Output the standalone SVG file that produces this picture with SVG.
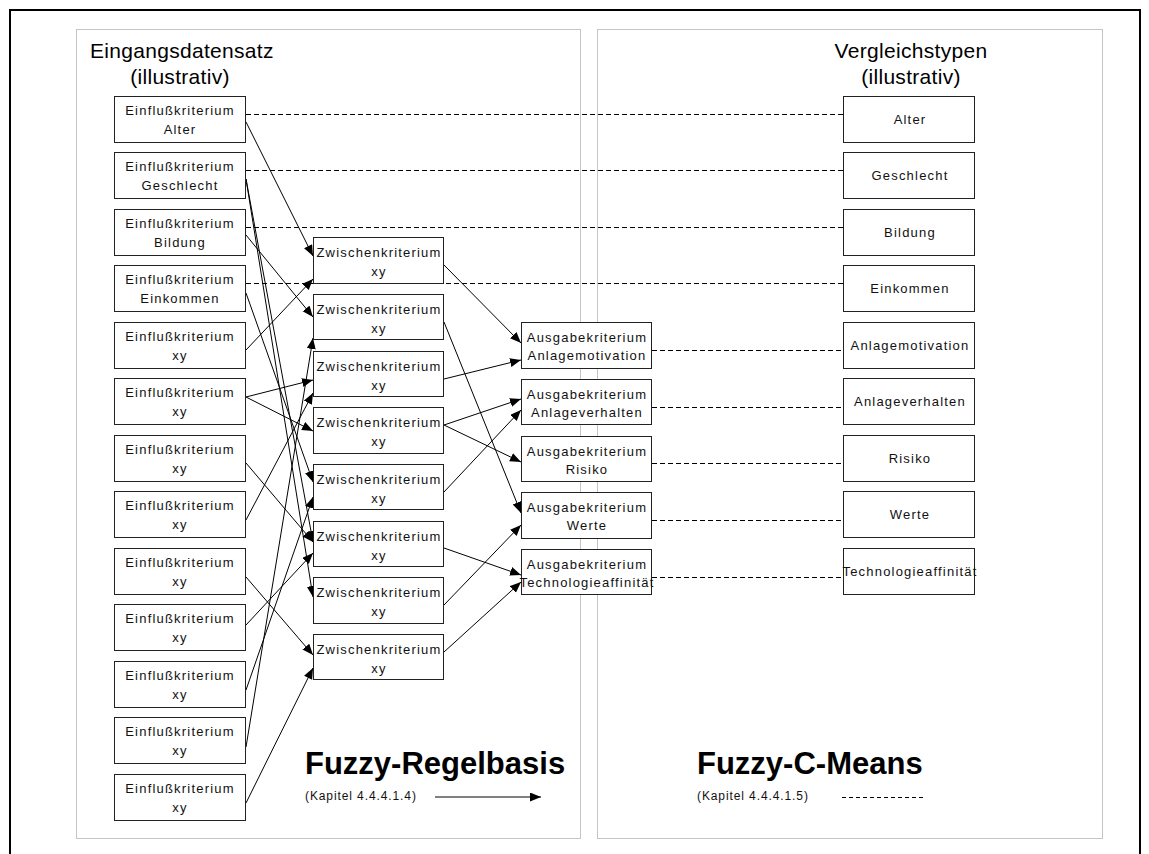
<svg xmlns="http://www.w3.org/2000/svg" width="1149" height="854" viewBox="0 0 1149 854">
  <style>
    .frame { fill: none; stroke: #000; stroke-width: 2; }
    .panel { fill: none; stroke: #8a8a8a; stroke-width: 1; stroke-dasharray: 1 1; }
    .box { fill: #fff; stroke: #222; stroke-width: 1; }
    .lbl { font-family: "Liberation Sans", Arial, sans-serif; font-size: 13px; letter-spacing: 1.2px; fill: #111; text-anchor: middle; }
    .title { font-family: "Liberation Sans", Arial, sans-serif; font-size: 21px; letter-spacing: 0.3px; fill: #000; }
    .big { font-family: "Liberation Sans", Arial, sans-serif; font-size: 31px; font-weight: bold; fill: #000; }
    .small { font-family: "Liberation Sans", Arial, sans-serif; font-size: 12px; letter-spacing: 0.9px; fill: #111; }
    .arrow { fill: none; stroke: #000; stroke-width: 1; marker-end: url(#head); }
    .dash { fill: none; stroke: #000; stroke-width: 1; stroke-dasharray: 5 3; }
  </style>
  <defs>
    <marker id="head" markerUnits="userSpaceOnUse" markerWidth="12" markerHeight="10" refX="11" refY="4.5" orient="auto">
      <path d="M0,0 L11,4.5 L0,9 z" fill="#000"/>
    </marker>
  </defs>

  <rect width="1149" height="854" fill="#fff"/>

  <!-- outer frame, open at the bottom -->
  <path class="frame" d="M10,854 V10 H1140 V854"/>

  <!-- dotted panels -->
  <rect class="panel" x="76.5" y="29.5" width="504" height="809"/>
  <rect class="panel" x="597.5" y="29.5" width="505" height="809"/>

  <text class="title" x="90" y="58">Eingangsdatensatz</text>
  <text class="title" x="180" y="84" text-anchor="middle">(illustrativ)</text>
  <text class="title" x="911" y="58" text-anchor="middle">Vergleichstypen</text>
  <text class="title" x="911" y="84" text-anchor="middle">(illustrativ)</text>

  <!-- connectors -->
  <g id="connectors">
    <!-- dashed links to the comparison types -->
    <line class="dash" x1="246" y1="114.5" x2="843" y2="114.5"/>
    <line class="dash" x1="246" y1="170.5" x2="843" y2="170.5"/>
    <line class="dash" x1="246" y1="227.5" x2="843" y2="227.5"/>
    <line class="dash" x1="246" y1="283.5" x2="843" y2="283.5"/>
    <line class="dash" x1="652" y1="350.5" x2="843" y2="350.5"/>
    <line class="dash" x1="652" y1="407.5" x2="843" y2="407.5"/>
    <line class="dash" x1="652" y1="463.5" x2="843" y2="463.5"/>
    <line class="dash" x1="652" y1="520.5" x2="843" y2="520.5"/>
    <line class="dash" x1="652" y1="577.5" x2="843" y2="577.5"/>

    <!-- input criteria to intermediate criteria -->
    <line class="arrow" x1="246" y1="122" x2="313" y2="256"/>
    <line class="arrow" x1="246" y1="179" x2="313" y2="542"/>
    <line class="arrow" x1="246" y1="179" x2="313" y2="597"/>
    <line class="arrow" x1="246" y1="235" x2="313" y2="317"/>
    <line class="arrow" x1="246" y1="293" x2="313" y2="482"/>
    <line class="arrow" x1="246" y1="350" x2="313" y2="279"/>
    <line class="arrow" x1="246" y1="397" x2="313" y2="380"/>
    <line class="arrow" x1="246" y1="397" x2="313" y2="431"/>
    <line class="arrow" x1="246" y1="463" x2="313" y2="542"/>
    <line class="arrow" x1="246" y1="520" x2="313" y2="393"/>
    <line class="arrow" x1="246" y1="577" x2="313" y2="655"/>
    <line class="arrow" x1="246" y1="625" x2="313" y2="553"/>
    <line class="arrow" x1="246" y1="690" x2="313" y2="497"/>
    <line class="arrow" x1="246" y1="747" x2="313" y2="338"/>
    <line class="arrow" x1="246" y1="803" x2="313" y2="668"/>

    <!-- intermediate criteria to output criteria -->
    <line class="arrow" x1="444" y1="265" x2="521" y2="343"/>
    <line class="arrow" x1="444" y1="322" x2="521" y2="513"/>
    <line class="arrow" x1="444" y1="379" x2="521" y2="360"/>
    <line class="arrow" x1="444" y1="425" x2="521" y2="399"/>
    <line class="arrow" x1="444" y1="425" x2="521" y2="462"/>
    <line class="arrow" x1="444" y1="492" x2="521" y2="410"/>
    <line class="arrow" x1="444" y1="548" x2="521" y2="575"/>
    <line class="arrow" x1="444" y1="605" x2="521" y2="525"/>
    <line class="arrow" x1="444" y1="652" x2="521" y2="582"/>

    <!-- legend marks -->
    <line class="arrow" x1="435" y1="797" x2="541" y2="797"/>
    <line x1="842" y1="797.5" x2="926" y2="797.5" stroke="#000" stroke-width="1" stroke-dasharray="4 3"/>
  </g>

  <!-- input criteria -->
  <g id="in-alter"><rect class="box" x="114.5" y="96.5" width="131" height="46"/><text class="lbl" x="180" y="115">Einflußkriterium</text><text class="lbl" x="180" y="134">Alter</text></g>
  <g id="in-geschlecht"><rect class="box" x="114.5" y="152.5" width="131" height="46"/><text class="lbl" x="180" y="171">Einflußkriterium</text><text class="lbl" x="180" y="190">Geschlecht</text></g>
  <g id="in-bildung"><rect class="box" x="114.5" y="209.5" width="131" height="46"/><text class="lbl" x="180" y="228">Einflußkriterium</text><text class="lbl" x="180" y="247">Bildung</text></g>
  <g id="in-einkommen"><rect class="box" x="114.5" y="265.5" width="131" height="46"/><text class="lbl" x="180" y="284">Einflußkriterium</text><text class="lbl" x="180" y="303">Einkommen</text></g>
  <g id="in-xy-5"><rect class="box" x="114.5" y="322.5" width="131" height="46"/><text class="lbl" x="180" y="341">Einflußkriterium</text><text class="lbl" x="180" y="360">xy</text></g>
  <g id="in-xy-6"><rect class="box" x="114.5" y="378.5" width="131" height="46"/><text class="lbl" x="180" y="397">Einflußkriterium</text><text class="lbl" x="180" y="416">xy</text></g>
  <g id="in-xy-7"><rect class="box" x="114.5" y="435.5" width="131" height="46"/><text class="lbl" x="180" y="454">Einflußkriterium</text><text class="lbl" x="180" y="473">xy</text></g>
  <g id="in-xy-8"><rect class="box" x="114.5" y="491.5" width="131" height="46"/><text class="lbl" x="180" y="510">Einflußkriterium</text><text class="lbl" x="180" y="529">xy</text></g>
  <g id="in-xy-9"><rect class="box" x="114.5" y="548.5" width="131" height="46"/><text class="lbl" x="180" y="567">Einflußkriterium</text><text class="lbl" x="180" y="586">xy</text></g>
  <g id="in-xy-10"><rect class="box" x="114.5" y="604.5" width="131" height="46"/><text class="lbl" x="180" y="623">Einflußkriterium</text><text class="lbl" x="180" y="642">xy</text></g>
  <g id="in-xy-11"><rect class="box" x="114.5" y="661.5" width="131" height="46"/><text class="lbl" x="180" y="680">Einflußkriterium</text><text class="lbl" x="180" y="699">xy</text></g>
  <g id="in-xy-12"><rect class="box" x="114.5" y="717.5" width="131" height="46"/><text class="lbl" x="180" y="736">Einflußkriterium</text><text class="lbl" x="180" y="755">xy</text></g>
  <g id="in-xy-13"><rect class="box" x="114.5" y="774.5" width="131" height="46"/><text class="lbl" x="180" y="793">Einflußkriterium</text><text class="lbl" x="180" y="812">xy</text></g>

  <!-- intermediate criteria -->
  <g id="mid-1"><rect class="box" x="313.5" y="237.5" width="130" height="46"/><text class="lbl" x="379" y="257">Zwischenkriterium</text><text class="lbl" x="379" y="276">xy</text></g>
  <g id="mid-2"><rect class="box" x="313.5" y="294.5" width="130" height="45"/><text class="lbl" x="379" y="314">Zwischenkriterium</text><text class="lbl" x="379" y="333">xy</text></g>
  <g id="mid-3"><rect class="box" x="313.5" y="351.5" width="130" height="45"/><text class="lbl" x="379" y="371">Zwischenkriterium</text><text class="lbl" x="379" y="390">xy</text></g>
  <g id="mid-4"><rect class="box" x="313.5" y="407.5" width="130" height="46"/><text class="lbl" x="379" y="427">Zwischenkriterium</text><text class="lbl" x="379" y="446">xy</text></g>
  <g id="mid-5"><rect class="box" x="313.5" y="464.5" width="130" height="45"/><text class="lbl" x="379" y="484">Zwischenkriterium</text><text class="lbl" x="379" y="503">xy</text></g>
  <g id="mid-6"><rect class="box" x="313.5" y="521.5" width="130" height="45"/><text class="lbl" x="379" y="541">Zwischenkriterium</text><text class="lbl" x="379" y="560">xy</text></g>
  <g id="mid-7"><rect class="box" x="313.5" y="577.5" width="130" height="46"/><text class="lbl" x="379" y="597">Zwischenkriterium</text><text class="lbl" x="379" y="616">xy</text></g>
  <g id="mid-8"><rect class="box" x="313.5" y="634.5" width="130" height="45"/><text class="lbl" x="379" y="654">Zwischenkriterium</text><text class="lbl" x="379" y="673">xy</text></g>

  <!-- output criteria -->
  <g id="out-anlagemotivation"><rect class="box" x="521.5" y="322.5" width="130" height="46"/><text class="lbl" x="587" y="342">Ausgabekriterium</text><text class="lbl" x="587" y="360">Anlagemotivation</text></g>
  <g id="out-anlageverhalten"><rect class="box" x="521.5" y="379.5" width="130" height="45"/><text class="lbl" x="587" y="399">Ausgabekriterium</text><text class="lbl" x="587" y="417">Anlageverhalten</text></g>
  <g id="out-risiko"><rect class="box" x="521.5" y="436.5" width="130" height="45"/><text class="lbl" x="587" y="456">Ausgabekriterium</text><text class="lbl" x="587" y="474">Risiko</text></g>
  <g id="out-werte"><rect class="box" x="521.5" y="492.5" width="130" height="46"/><text class="lbl" x="587" y="512">Ausgabekriterium</text><text class="lbl" x="587" y="530">Werte</text></g>
  <g id="out-technologie"><rect class="box" x="521.5" y="549.5" width="130" height="45"/><text class="lbl" x="587" y="569">Ausgabekriterium</text><text class="lbl" x="587" y="587">Technologieaffinität</text></g>

  <!-- comparison types -->
  <g id="type-alter"><rect class="box" x="843.5" y="96.5" width="131" height="46"/><text class="lbl" x="910" y="124">Alter</text></g>
  <g id="type-geschlecht"><rect class="box" x="843.5" y="152.5" width="131" height="46"/><text class="lbl" x="910" y="180">Geschlecht</text></g>
  <g id="type-bildung"><rect class="box" x="843.5" y="209.5" width="131" height="46"/><text class="lbl" x="910" y="237">Bildung</text></g>
  <g id="type-einkommen"><rect class="box" x="843.5" y="265.5" width="131" height="46"/><text class="lbl" x="910" y="293">Einkommen</text></g>
  <g id="type-anlagemotivation"><rect class="box" x="843.5" y="322.5" width="131" height="46"/><text class="lbl" x="910" y="350">Anlagemotivation</text></g>
  <g id="type-anlageverhalten"><rect class="box" x="843.5" y="378.5" width="131" height="46"/><text class="lbl" x="910" y="406">Anlageverhalten</text></g>
  <g id="type-risiko"><rect class="box" x="843.5" y="435.5" width="131" height="46"/><text class="lbl" x="910" y="463">Risiko</text></g>
  <g id="type-werte"><rect class="box" x="843.5" y="491.5" width="131" height="46"/><text class="lbl" x="910" y="519">Werte</text></g>
  <g id="type-technologie"><rect class="box" x="843.5" y="548.5" width="131" height="46"/><text class="lbl" x="910" y="576">Technologieaffinität</text></g>

  <!-- legend -->
  <text class="big" x="305" y="774">Fuzzy-Regelbasis</text>
  <text class="small" x="305" y="800">(Kapitel 4.4.4.1.4)</text>
  <text class="big" x="697" y="774">Fuzzy-C-Means</text>
  <text class="small" x="697" y="800">(Kapitel 4.4.4.1.5)</text>
</svg>
